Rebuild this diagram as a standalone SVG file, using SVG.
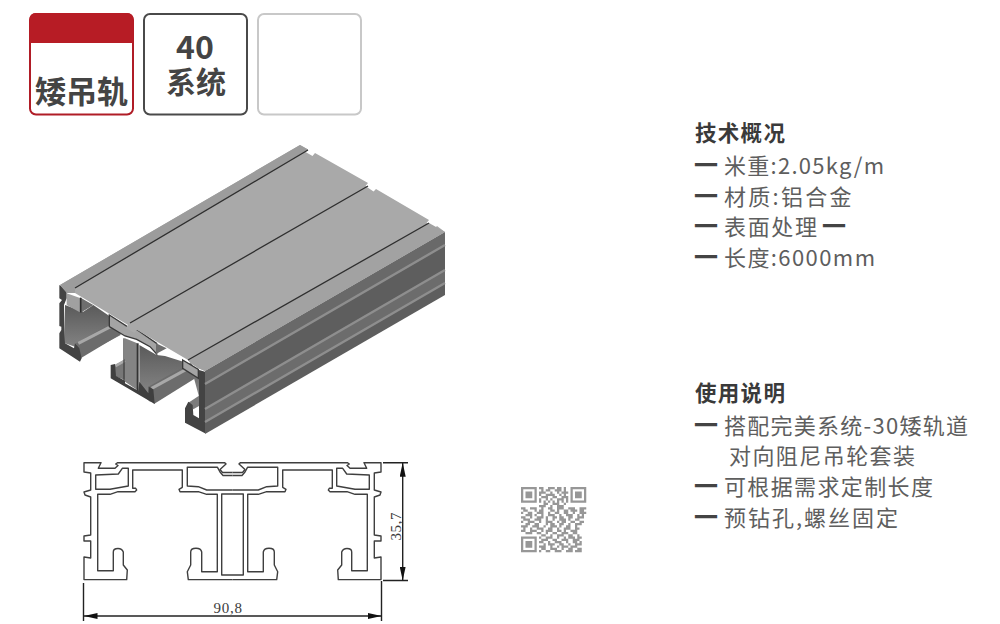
<svg xmlns="http://www.w3.org/2000/svg" xmlns:xlink="http://www.w3.org/1999/xlink" width="1000" height="624" viewBox="0 0 1000 624">
<style>
.cjk{font-family:"Noto Sans CJK SC","Noto Sans",sans-serif}
.b{font-weight:700;fill:#444}
.h{font-size:21.5px;font-weight:700;fill:#3a3a3a;letter-spacing:1.300px}
.t{font-size:22px;fill:#5e5e5e}
.d{font-size:24px;font-weight:700;fill:#444}
.p{fill:none;stroke:#3f3f3f;stroke-width:1.400;stroke-linejoin:round}
.dim{stroke:#222;stroke-width:1.400;fill:none}
.dt{font-family:"Liberation Serif",serif;font-size:15px;fill:#3c3c3c}
</style>
<defs>
<marker id="arr" viewBox="0 0 14 6" refX="14" refY="3" markerWidth="14" markerHeight="6" markerUnits="userSpaceOnUse" orient="auto-start-reverse"><path d="M0 0L14 3L0 6z" fill="#111"/></marker>
<linearGradient id="wall" x1="0" y1="0" x2="0" y2="1"><stop offset="0" stop-color="#5a5a5a"/><stop offset="1" stop-color="#8c8c8c"/></linearGradient>
<g id="half">
<path class="p" d="M225 462.700H117.700L115.700 464L118 465.500L115 468.300H98.300L101 462.700H84V472L90.700 473V490L84 492L85 495L90.700 497V535L84 536V541L90.700 541V558L84 557V579.600H126.700L127.300 570L123.300 565V552Q122 548.500 118 548.500Q113.300 548.500 113.300 552V570.700H97.700V494.300H110L118 491.700H135L136.700 490L135.700 488.300H132.700V470H182.300V487.300L179 489.300L180 491.700H198.300L206.700 494.300H217.300V571.700H201.700V552Q201 548.300 196 548.300Q190.700 548.300 190.700 552V565L187.300 571.700L188.300 579.600H232.500"/>
<path class="p" d="M95.700 475L118.300 474L122.300 468.300H128.300V486L110 489.300H95.700Z"/>
<path class="p" d="M232.500 490H206.700L198.300 486.700L187.300 486V467.300H217.500L220 472L223 475.500H232.500"/>
<path class="p" d="M225 462.700L226 464L220 469.500L222.500 472.500H232.500"/>
</g>
</defs>
<rect width="1000" height="624" fill="#fff"/>

<g id="badge-type">
<rect x="30" y="14" width="103" height="100.500" rx="6" fill="#fff" stroke="#b01c26" stroke-width="2"/>
<path d="M29.500 43V19a6 6 0 0 1 6-6h92a6 6 0 0 1 6 6V43z" fill="#b71c25"/>
<text class="cjk b" x="81.500" y="103" font-size="31" text-anchor="middle">矮吊轨</text>
</g>
<g id="badge-system">
<rect x="144" y="14" width="103" height="100.500" rx="6" fill="#fff" stroke="#4a4a4a" stroke-width="2"/>
<text class="cjk b" x="195" y="58.500" font-size="32" text-anchor="middle">40</text>
<text class="cjk b" x="196" y="93" font-size="30" text-anchor="middle">系统</text>
</g>
<g id="badge-empty">
<rect x="258" y="14" width="103" height="100.500" rx="6" fill="#fff" stroke="#c8c8c8" stroke-width="2"/>
</g>

<g id="profile-3d">
<g transform="translate(50 130) scale(.33333)">
<path d="M45 525L100 545L130 525L178 558L205 600L212 615L90 680L75 650L45 640Z" fill="url(#wall)"/>
<path d="M78 640L170 588L212 613L92 685Z" fill="#6c6c6c"/>
<path d="M85 640L182 590" stroke="#a8a8a8" stroke-width="9" fill="none"/>
<path d="M225 625L262 640V780L225 755Z" fill="#848484"/>
<path d="M268 645L320 675L345 678L400 695L432 740L300 815L268 785Z" fill="url(#wall)"/>
<path d="M295 770L425 697L436 745L312 822Z" fill="#6c6c6c"/>
<path d="M305 775L420 712" stroke="#a8a8a8" stroke-width="9" fill="none"/>
<path d="M185 712L225 688V750L198 740Z" fill="#777"/>
<path d="M196 708L225 692" stroke="#a8a8a8" stroke-width="8" fill="none"/>
<path d="M400 690L447 725V800L432 745Z" fill="url(#wall)"/>
<path d="M415 818L447 797V828L430 838Z" fill="#7c7c7c"/>
<path d="M263 640V785" stroke="#333" stroke-width="6" fill="none"/>
<path d="M222 625V755" stroke="#444" stroke-width="4" fill="none"/>
<path d="M182 705L195 702L198 738L225 752V760L265 782L268 755L295 790L296 770L310 778L314 822L182 745Z" fill="#3f3f3f"/>
<path d="M28 465L50 478V505L42 525L45 640L72 655L75 640L88 655L95 685L90 695L28 655V610L34 600V590L28 588V520L36 510L28 505Z" fill="#434343"/>
<path d="M447 720L465 725V910L405 878V835L415 815L428 825L430 855L447 865Z" fill="#434343"/>
<path d="M50 490L92 505V548L50 525Z" fill="#a0a0a0"/>
<path d="M92 503V548L130 525Z" fill="#6e6e6e"/>
<path d="M92 503V548" stroke="#2e2e2e" stroke-width="5"/>
<path d="M178 555L232 590L262 600L320 640V672L300 650L260 628L225 618L178 590Z" fill="#a4a4a4" stroke="#3a3a3a" stroke-width="4"/>
<path d="M318 640V672L350 655Z" fill="#6e6e6e"/>
<path d="M398 690L445 718V745L398 715Z" fill="#a4a4a4" stroke="#3a3a3a" stroke-width="4"/>
</g>
<path d="M205 371L445 232V295L205 434Z" fill="#5e5e5e"/>
<path d="M205 371L445 232V245L205 384Z" fill="#696969"/>
<path d="M205 409L445 270V283L205 422Z" fill="#6c6c6c"/>
<path d="M205 384L445 245M205 409L445 270M205 422L445 283" stroke="#8e8e8e" stroke-width="2.400" fill="none"/>
<path d="M60 285L300 145L308 149.500L305.500 152L312.500 156L315 153L368 183L365.500 186L373.500 191.500L376 189L429 220L426.500 223L434.500 228.500L437 226L445 232L205 371L198 368L190.500 363.500L188 360L137 330L134.500 333L125.500 328L128 325L75 293L67 293Z" fill="#a9a9a9"/>
<path d="M60 285L300 145L308 149.500L75 288L75 293L67 293Z" fill="#9c9c9c"/>
<path d="M188 360L429 223L445 232L205 371L198 368Z" fill="#a2a2a2"/>
<path d="M75 288L308 150M130 323L368 186M188 360L429 223" stroke="#2f2f2f" stroke-width="1.300" fill="none"/>
</g>

<g id="profile-section">
<use xlink:href="#half" href="#half"/>
<use xlink:href="#half" href="#half" transform="matrix(-1 0 0 1 465 0)"/>
<path class="p" d="M221.700 494H243.300V575H221.700Z"/>
</g>

<g id="dimensions">
<path class="dim" d="M83.500 583V621M381.500 581V621M383 462.700H408M383 580.500H408"/>
<path class="dim" d="M83.500 616H381.500" marker-start="url(#arr)" marker-end="url(#arr)"/>
<path class="dim" d="M402.700 462.700V580.500" marker-start="url(#arr)" marker-end="url(#arr)"/>
<text class="dt" x="213.500" y="612.500" textLength="28.500">90,8</text>
<text class="dt" transform="translate(401 540.500) rotate(-90)" textLength="28">35,7</text>
</g>

<g id="qr" transform="translate(521 487) scale(2.25)" opacity=".9">
<path d="M0 0h7v7h-7zM1 1v5h5v-5zM2 2h3v3h-3zM22 0h7v7h-7zM23 1v5h5v-5zM24 2h3v3h-3zM0 22h7v7h-7zM1 23v5h5v-5zM2 24h3v3h-3z" fill="#8c8c8c"/>
<path stroke="#8c8c8c" stroke-width="1" fill="none" d="M8 .5h2m2 0h3m1 0h2m1 0h1M9 1.500h1m1 0h2m2 0h3m1 0h1M8 2.500h3m2 0h1m2 0h1m1 0h3M8 3.500h1m2 0h4m2 0h1m1 0h1M9 4.500h3m2 0h2m2 0h3M8 5.500h1m2 0h1m1 0h1m2 0h3m1 0h1M8 6.500h1m1 0h1m1 0h1m1 0h1m1 0h1m1 0h1m1 0h1M10 7.500h2m2 0h3m2 0h1M8 8.500h3m2 0h1m2 0h3M0 9.500h2m2 0h3m2 0h1m2 0h2m2 0h3m2 0h3m2 0h3M1 10.500h2m3 0h1m1 0h2m3 0h2m1 0h1m2 0h2m1 0h3m1 0h2M0 11.500h1m2 0h2m2 0h3m2 0h1m2 0h2m2 0h2m2 0h1m2 0h3M2 12.500h3m1 0h1m2 0h1m2 0h3m2 0h1m2 0h3m2 0h1m1 0h1M0 13.500h2m2 0h1m2 0h3m1 0h1m2 0h2m1 0h2m2 0h2m2 0h3M1 14.500h3m2 0h3m2 0h1m2 0h1m2 0h3m1 0h1m2 0h2M0 15.500h1m2 0h3m2 0h1m2 0h3m2 0h1m1 0h2m2 0h2m2 0h2M2 16.500h2m2 0h2m3 0h1m1 0h2m2 0h2m2 0h1m2 0h3M0 17.500h3m2 0h3m2 0h1m2 0h3m1 0h1m2 0h2m2 0h1M1 18.500h1m2 0h1m2 0h3m2 0h2m2 0h1m2 0h3m2 0h2M0 19.500h2m2 0h3m2 0h1m1 0h3m2 0h2m1 0h1m2 0h3M2 20.500h3m2 0h2m2 0h1m2 0h2m2 0h3m2 0h2M9 21.500h2m2 0h1m2 0h3m2 0h2m2 0h1M8 22.500h1m2 0h3m2 0h1m2 0h1m1 0h3m1 0h2M9 23.500h3m2 0h2m2 0h3m2 0h3M8 24.500h2m2 0h1m2 0h3m2 0h1m2 0h2m1 0h1M10 25.500h1m1 0h3m2 0h2m2 0h1m2 0h3M8 26.500h3m2 0h1m2 0h1m1 0h3m1 0h3M9 27.500h2m2 0h3m2 0h1m2 0h2m2 0h2M8 28.500h1m2 0h2m2 0h3m2 0h3m1 0h3"/>
</g>

<g id="spec" class="cjk">
<text class="h" x="695" y="141">技术概况</text>
<text class="d" x="694" y="173.500">一</text><text class="t" x="724" y="173.500" textLength="160">米重:2.05kg/m</text>
<text class="d" x="694" y="204.500">一</text><text class="t" x="724" y="204.500" textLength="127.500">材质:铝合金</text>
<text class="d" x="694" y="234.500">一</text><text class="t" x="724" y="234.500" textLength="93">表面处理</text><text class="d" x="822" y="234.500">一</text>
<text class="d" x="694" y="265.500">一</text><text class="t" x="724" y="265.500" textLength="151">长度:6000mm</text>
</g>
<g id="usage" class="cjk">
<text class="h" x="695" y="401">使用说明</text>
<text class="d" x="694" y="434">一</text><text class="t" x="724" y="434" textLength="244">搭配完美系统-30矮轨道</text>
<text class="t" x="729" y="464" textLength="186">对向阻尼吊轮套装</text>
<text class="d" x="694" y="495">一</text><text class="t" x="724" y="495" textLength="209">可根据需求定制长度</text>
<text class="d" x="694" y="525.500">一</text><text class="t" x="724" y="525.500" textLength="174">预钻孔,螺丝固定</text>
</g>
</svg>
